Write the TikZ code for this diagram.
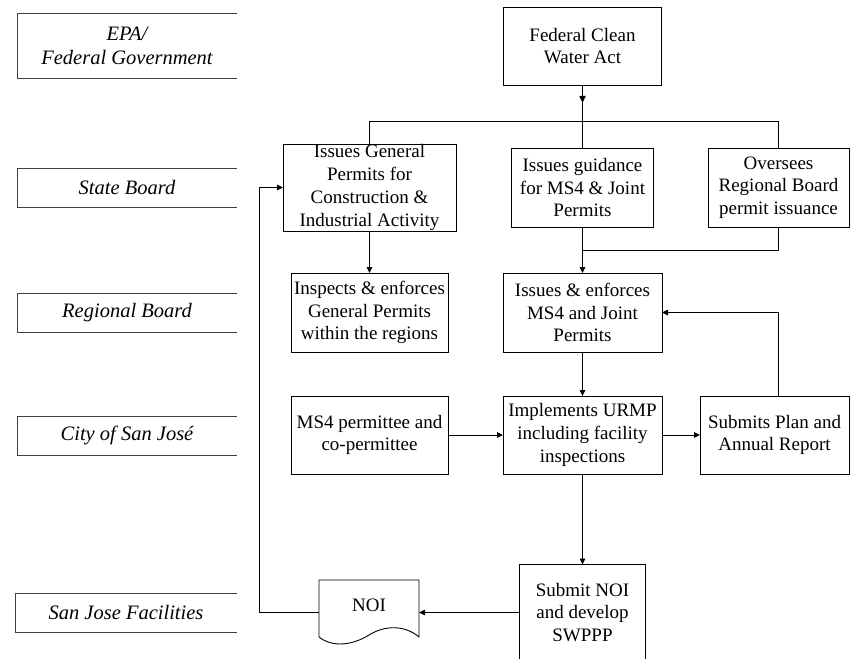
\documentclass[tikz,border=0pt]{standalone}
\usepackage{fontspec}
\setmainfont{Liberation Serif}
\usetikzlibrary{arrows.meta,calc}
\begin{document}
\begin{tikzpicture}[x=1pt,y=-1pt,
  every node/.style={inner sep=0pt,outer sep=0pt},
  box/.style={draw=black,line width=0.9pt,rectangle,align=center,
    font=\fontsize{19}{22.7}\selectfont},
  lane/.style={rectangle,align=center,minimum width=220pt,minimum height=39pt,
    font=\fontsize{20.5}{24}\selectfont\itshape},
  conn/.style={line width=0.9pt,draw=black},
  arr/.style={conn,-{Triangle[length=6pt,width=5.5pt]}},
  lanebox/.style={line width=0.9pt,draw=black!75}]
\useasboundingbox (0,0) rectangle (850,658);
\clip (0,0) rectangle (850,658);

% lane labels
\node[lane,minimum height=65pt] (epa) at (127,45.5) {EPA/\\Federal Government};
\node[lane] (state) at (127,187.5) {State Board};
\node[lane] (region) at (127,312.5) {Regional Board};
\node[lane] (city) at (127,435.5) {City of San José};
\node[lane,minimum width=222pt] (fac) at (126,612.5) {San Jose Facilities};
\foreach \n in {epa,state,region,city,fac}{
  \draw[lanebox] (\n.north east) -- (\n.north west) -- (\n.south west) -- (\n.south east);
}

% boxes
\node[box,minimum width=158pt,minimum height=78pt] (cwa) at (582.5,46) {Federal Clean\\Water Act};
\node[box,minimum width=173pt,minimum height=87pt] (gen) at (369.5,187.5) {Issues General\\Permits for\\Construction \&\\Industrial Activity};
\node[box,minimum width=142pt,minimum height=79pt] (guid) at (582.5,187.5) {Issues guidance\\for MS4 \& Joint\\Permits};
\node[box,minimum width=141pt,minimum height=79pt] (over) at (778.5,187.5) {Oversees\\Regional Board\\permit issuance};
\node[box,minimum width=157pt,minimum height=79pt] (insp) at (369.5,312.5) {Inspects \& enforces\\General Permits\\within the regions};
\node[box,minimum width=159pt,minimum height=79pt] (enf) at (582.5,312.5) {Issues \& enforces\\MS4 and Joint\\Permits};
\node[box,minimum width=157pt,minimum height=78pt] (ms4) at (369.5,435) {MS4 permittee and\\co-permittee};
\node[box,minimum width=159pt,minimum height=78pt] (impl) at (582.5,435) {Implements URMP\\including facility\\inspections};
\node[box,minimum width=149pt,minimum height=78pt] (plan) at (774.5,435) {Submits Plan and\\Annual Report};
\node[box,minimum width=126pt,minimum height=96pt] (snoi) at (582.5,612.5) {Submit NOI\\and develop\\SWPPP};

% NOI document shape
\node[rectangle,minimum width=100pt,minimum height=65pt] (noi) at (369,612.5) {};
\node[font=\fontsize{19}{22.7}\selectfont] (noit) at (369,605) {NOI};
\draw[conn] (noi.south west |- 0,637) -- (noi.north west) -- (noi.north east) -- (noi.south east |- 0,637)
  .. controls (405,625) and (385,625) .. (369,635)
  .. controls (353,645) and (333,648) .. (noi.south west |- 0,637);

% connectors
\coordinate (am) at (582.5,103);
\draw[line width=1.6pt,-{Triangle[length=7pt,width=6pt]}] (cwa.south) -- (am);
\draw[line width=1.6pt] (am) -- (guid.north);
\coordinate (busL) at (369.5,121);
\coordinate (busR) at (778.5,121);
\draw[conn] (gen.north) -- (busL) -- (busR) -- (over.north);

\draw[arr] (gen.south) -- (insp.north);
\draw[arr] (guid.south) -- (enf.north);
\coordinate (join) at (582.5,250);
\draw[conn] (over.south) -- (over.south |- join) -- (join);

\draw[arr] (enf.south) -- (impl.north);
\draw[arr] (ms4.east) -- (impl.west);
\draw[arr] (impl.east) -- (plan.west);
\draw[arr] (over.south |- plan.north) -- (over.south |- enf.east) -- (enf.east);
\draw[arr] (impl.south) -- (snoi.north);
\draw[arr] (snoi.west) -- (noi.east);
\coordinate (fb) at (259,612.5);
\draw[arr] (noi.west) -- (fb) -- (fb |- gen.west) -- (gen.west);
\end{tikzpicture}
\end{document}
